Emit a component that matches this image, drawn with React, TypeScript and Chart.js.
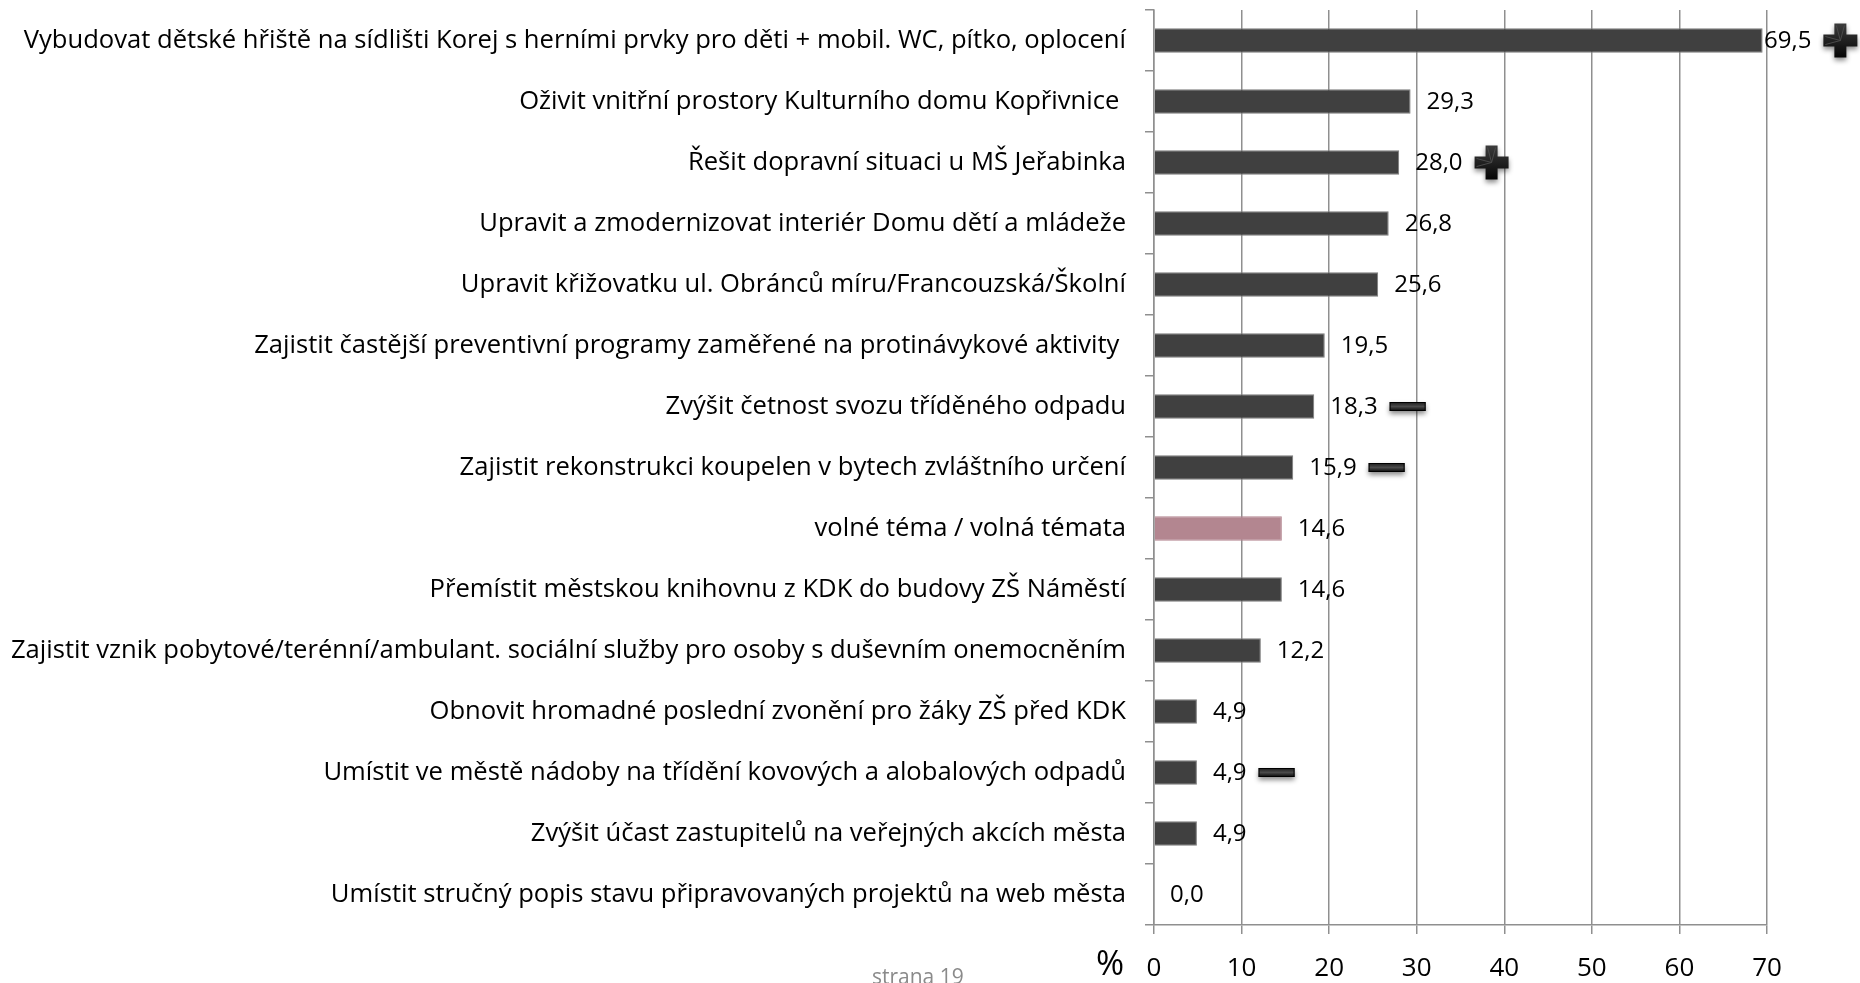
import React, { useEffect, useRef } from "react";
import { Chart, registerables } from "chart.js";

Chart.register(...registerables);

const categories: string[] = [
  "Vybudovat dětské hřiště na sídlišti Korej s herními prvky pro děti + mobil. WC, pítko, oplocení",
  "Oživit vnitřní prostory Kulturního domu Kopřivnice ",
  "Řešit dopravní situaci u MŠ Jeřabinka",
  "Upravit a zmodernizovat interiér Domu dětí a mládeže",
  "Upravit křižovatku ul. Obránců míru/Francouzská/Školní",
  "Zajistit častější preventivní programy zaměřené na protinávykové aktivity ",
  "Zvýšit četnost svozu tříděného odpadu",
  "Zajistit rekonstrukci koupelen v bytech zvláštního určení",
  "volné téma / volná témata",
  "Přemístit městskou knihovnu z KDK do budovy ZŠ Náměstí",
  "Zajistit vznik pobytové/terénní/ambulant. sociální služby pro osoby s duševním onemocněním",
  "Obnovit hromadné poslední zvonění pro žáky ZŠ před KDK",
  "Umístit ve městě nádoby na třídění kovových a alobalových odpadů",
  "Zvýšit účast zastupitelů na veřejných akcích města",
  "Umístit stručný popis stavu připravovaných projektů na web města",
];

const values: number[] = [69.5, 29.3, 28.0, 26.8, 25.6, 19.5, 18.3, 15.9, 14.6, 14.6, 12.2, 4.9, 4.9, 4.9, 0.0];

// trend markers shown after the value labels
const trends: (string | null)[] = ["+", null, "+", null, null, null, "-", "-", null, null, null, null, "-", null, null];

const xTicks: number[] = [0, 10, 20, 30, 40, 50, 60, 70];
const highlightCategory = "volné téma / volná témata";
const axisUnit = "%";
const footerText = "strana 19";

const FONT = "'Open Sans', sans-serif";
const GRID = "#8f8f8f";
const AXIS_LEFT = 1154;
const LABEL_SPACE = 1115;

export default function App() {
  const ref = useRef<HTMLCanvasElement | null>(null);

  useEffect(() => {
    document.body.style.margin = "0";
    const canvas = ref.current!;
    const ctx = canvas.getContext("2d")!;

    // fit the category label font so the longest label fills the left area
    ctx.font = `100px ${FONT}`;
    const maxW = Math.max(...categories.map((c) => ctx.measureText(c).width));
    const labelSize = Math.round((100 * LABEL_SPACE) / maxW * 10) / 10;

    const labelPlugin = {
      id: "extras",
      afterDatasetsDraw(chart: any) {
        const c = chart.ctx;
        const area = chart.chartArea;
        const meta = chart.getDatasetMeta(0);
        c.save();
        c.font = `24px ${FONT}`;
        c.fillStyle = "#000";
        c.textBaseline = "middle";
        c.textAlign = "left";
        meta.data.forEach((bar: any, i: number) => {
          const txt = values[i].toFixed(1).replace(".", ",");
          const x = Math.min(bar.x + 16, area.right - 3);
          c.fillStyle = "#000";
          c.fillText(txt, x, bar.y + 1);
          const w = c.measureText(txt).width;
          const t = trends[i];
          if (t) {
            const start = x + w + 12;
            c.save();
            c.shadowColor = "rgba(0,0,0,0.45)";
            c.shadowBlur = 5;
            c.shadowOffsetY = 3;
            if (t === "+") {
              const s = 34, th = 12;
              const cx = start + s / 2, cy = bar.y;
              const g = c.createLinearGradient(cx, cy - s / 2, cx, cy + s / 2);
              g.addColorStop(0, "#3c3c3c");
              g.addColorStop(1, "#050505");
              c.fillStyle = g;
              c.beginPath();
              c.moveTo(cx - th / 2, cy - s / 2);
              c.lineTo(cx + th / 2, cy - s / 2);
              c.lineTo(cx + th / 2, cy - th / 2);
              c.lineTo(cx + s / 2, cy - th / 2);
              c.lineTo(cx + s / 2, cy + th / 2);
              c.lineTo(cx + th / 2, cy + th / 2);
              c.lineTo(cx + th / 2, cy + s / 2);
              c.lineTo(cx - th / 2, cy + s / 2);
              c.lineTo(cx - th / 2, cy + th / 2);
              c.lineTo(cx - s / 2, cy + th / 2);
              c.lineTo(cx - s / 2, cy - th / 2);
              c.lineTo(cx - th / 2, cy - th / 2);
              c.closePath();
              c.fill();
              c.shadowColor = "transparent";
              c.strokeStyle = "#4a4a4a";
              c.lineWidth = 1;
              c.beginPath();
              c.moveTo(cx - th / 2 + 2, cy - s / 2 + 2);
              c.lineTo(cx, cy);
              c.lineTo(cx + th / 2 - 2, cy - s / 2 + 2);
              c.moveTo(cx - s / 2 + 2, cy - th / 2 + 2);
              c.lineTo(cx, cy);
              c.lineTo(cx - s / 2 + 2, cy + th / 2 - 2);
              c.stroke();
            } else {
              const w2 = 36, h2 = 9;
              const cy = bar.y;
              const g = c.createLinearGradient(0, cy - h2 / 2, 0, cy + h2 / 2);
              g.addColorStop(0, "#1a1a1a");
              g.addColorStop(0.5, "#4a4a4a");
              g.addColorStop(1, "#050505");
              c.fillStyle = g;
              c.fillRect(start, cy - h2 / 2, w2, h2);
              c.shadowColor = "transparent";
              c.strokeStyle = "#000";
              c.lineWidth = 1;
              c.strokeRect(start + 0.5, cy - h2 / 2 + 0.5, w2 - 1, h2 - 1);
            }
            c.restore();
          }
        });
        // axis unit
        c.font = `34px ${FONT}`;
        c.fillStyle = "#000";
        c.textAlign = "center";
        c.textBaseline = "middle";
        c.fillText(axisUnit, area.left - 44, 965);
        // footer
        c.font = `21px ${FONT}`;
        c.fillStyle = "#8a8a8a";
        c.textAlign = "left";
        c.textBaseline = "top";
        c.fillText(footerText, 872, 968);
        c.restore();
      },
    };

    const chart = new Chart(ctx, {
      type: "bar",
      data: {
        labels: categories,
        datasets: [
          {
            data: values,
            backgroundColor: categories.map((c) => (c === highlightCategory ? "#b38690" : "#404040")),
            borderColor: categories.map((c) => (c === highlightCategory ? "#b38690" : "#7a7a7a")),
            borderWidth: 1,
            barPercentage: 0.4,
            categoryPercentage: 1,
          },
        ],
      },
      options: {
        indexAxis: "y",
        responsive: false,
        animation: false,
        devicePixelRatio: 1,
        layout: { padding: { top: 10, right: 93, left: 0, bottom: 0 } },
        plugins: { legend: { display: false }, tooltip: { enabled: false } },
        scales: {
          x: {
            min: 0,
            max: 70,
            afterFit: (s: any) => {
              s.height = 58;
              s.paddingLeft = 0;
              s.paddingRight = 0;
            },
            afterBuildTicks: (s: any) => {
              s.ticks = xTicks.map((v) => ({ value: v }));
            },
            ticks: {
              font: { family: FONT, size: 26 },
              color: "#000",
              padding: 19,
              maxRotation: 0,
            },
            grid: { color: GRID, lineWidth: 1.5, tickLength: 9, drawTicks: true },
            border: { color: GRID, width: 1.5 },
          },
          y: {
            afterFit: (s: any) => {
              s.width = AXIS_LEFT;
              s.paddingTop = 0;
              s.paddingBottom = 0;
            },
            ticks: {
              font: { family: FONT, size: labelSize },
              color: "#000",
              padding: 19,
              autoSkip: false,
            },
            grid: { drawOnChartArea: false, color: GRID, lineWidth: 1.5, tickLength: 9, offset: true },
            border: { color: GRID, width: 1.5 },
          },
        },
      } as any,
      plugins: [labelPlugin],
    });
    return () => chart.destroy();
  }, []);

  return (
    <div style={{ position: "absolute", left: 0, top: 0, width: 1860, height: 983 }}>
      <canvas ref={ref} width={1860} height={983} />
    </div>
  );
}
